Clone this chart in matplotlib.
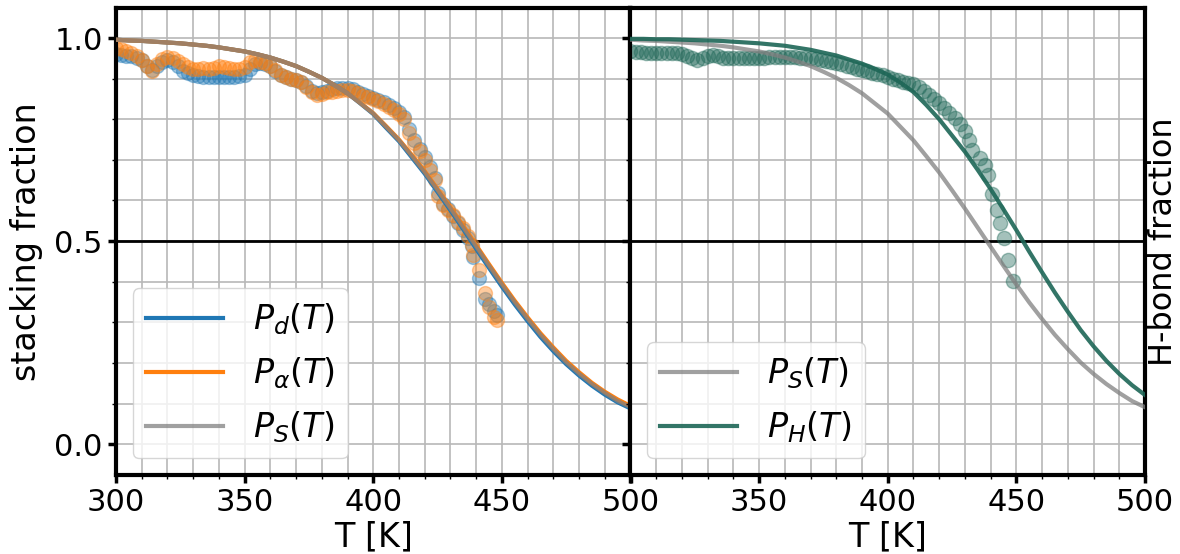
import matplotlib
matplotlib.use("Agg")
import matplotlib.pyplot as plt
from matplotlib.ticker import MultipleLocator

# ---- fitted curves ----
T_fit = [300, 305, 310, 315, 320, 325, 330, 335, 340, 345, 350, 355, 360, 365, 370,
         375, 380, 385, 390, 395, 400, 405, 410, 415, 420, 425, 430, 435, 440, 445,
         450, 455, 460, 465, 470, 475, 480, 485, 490, 495, 500]
P_S_fit = [0.996, 0.994, 0.993, 0.991, 0.989, 0.987, 0.984, 0.981, 0.977, 0.972,
           0.967, 0.960, 0.952, 0.942, 0.931, 0.917, 0.902, 0.884, 0.864, 0.839,
           0.814, 0.781, 0.748, 0.709, 0.669, 0.625, 0.580, 0.533, 0.486, 0.439,
           0.393, 0.349, 0.308, 0.269, 0.234, 0.201, 0.173, 0.148, 0.126, 0.106, 0.091]
P_d_fit = [0.996, 0.994, 0.993, 0.991, 0.989, 0.987, 0.984, 0.981, 0.977, 0.972,
           0.967, 0.960, 0.952, 0.942, 0.931, 0.917, 0.902, 0.884, 0.864, 0.839,
           0.813, 0.779, 0.746, 0.706, 0.666, 0.621, 0.576, 0.529, 0.481, 0.434,
           0.388, 0.344, 0.303, 0.264, 0.229, 0.197, 0.169, 0.144, 0.122, 0.103, 0.088]
P_a_fit = [0.996, 0.994, 0.993, 0.991, 0.989, 0.987, 0.984, 0.981, 0.977, 0.972,
           0.967, 0.960, 0.952, 0.942, 0.931, 0.917, 0.902, 0.884, 0.864, 0.840,
           0.815, 0.783, 0.750, 0.712, 0.672, 0.628, 0.583, 0.537, 0.490, 0.443,
           0.397, 0.353, 0.312, 0.273, 0.238, 0.205, 0.177, 0.151, 0.129, 0.110, 0.094]
P_H_fit = [0.998, 0.998, 0.997, 0.997, 0.996, 0.995, 0.994, 0.993, 0.991, 0.989,
           0.987, 0.984, 0.981, 0.976, 0.971, 0.964, 0.957, 0.947, 0.937, 0.924,
           0.910, 0.890, 0.867, 0.835, 0.800, 0.760, 0.720, 0.675, 0.628, 0.578,
           0.527, 0.474, 0.423, 0.373, 0.326, 0.281, 0.241, 0.205, 0.173, 0.145, 0.121]

# ---- simulation data: stacking (left) ----
T_stack = [300, 302, 304, 306, 308, 310, 312, 314, 316, 318, 320, 322, 324, 326, 328,
           330, 332, 334, 336, 338, 340, 342, 344, 346, 348, 350, 352, 354, 356, 358,
           360, 362, 364, 366, 368, 370, 372, 374, 376, 378, 380, 382, 384, 386, 388,
           390, 392, 394, 396, 398, 400, 402, 404, 406, 408, 410, 412, 414, 416, 418,
           420, 422, 424, 425, 427, 429, 431, 433, 435, 437, 438.4, 438.8, 441, 443.6,
           445, 446.8, 448.2]
P_alpha_data = [0.975, 0.972, 0.968, 0.964, 0.955, 0.945, 0.930, 0.920, 0.935, 0.948,
                0.954, 0.950, 0.943, 0.935, 0.928, 0.925, 0.924, 0.926, 0.925, 0.927,
                0.930, 0.929, 0.926, 0.924, 0.925, 0.928, 0.940, 0.945, 0.942, 0.938,
                0.932, 0.922, 0.910, 0.903, 0.900, 0.897, 0.893, 0.880, 0.868, 0.860,
                0.862, 0.866, 0.868, 0.870, 0.872, 0.873, 0.870, 0.864, 0.858, 0.854,
                0.850, 0.845, 0.838, 0.830, 0.822, 0.812, 0.800, 0.765, 0.742, 0.722,
                0.700, 0.675, 0.650, 0.610, 0.588, 0.576, 0.565, 0.548, 0.532, 0.512,
                0.490, 0.466, 0.428, 0.372, 0.338, 0.314, 0.305]
P_d_data = [0.960, 0.958, 0.956, 0.955, 0.952, 0.945, 0.932, 0.922, 0.930, 0.940,
            0.945, 0.940, 0.930, 0.920, 0.914, 0.910, 0.907, 0.905, 0.904, 0.903,
            0.903, 0.904, 0.905, 0.905, 0.906, 0.910, 0.925, 0.935, 0.938, 0.936,
            0.930, 0.920, 0.910, 0.903, 0.900, 0.897, 0.893, 0.882, 0.870, 0.864,
            0.866, 0.870, 0.874, 0.877, 0.878, 0.878, 0.874, 0.868, 0.862, 0.857,
            0.852, 0.848, 0.842, 0.835, 0.827, 0.818, 0.806, 0.775, 0.750, 0.728,
            0.706, 0.682, 0.655, 0.618, 0.592, 0.578, 0.562, 0.545, 0.528, 0.508,
            0.488, 0.460, 0.410, 0.358, 0.345, 0.328, 0.318]

# ---- simulation data: H-bond (right) ----
T_hb = [300, 302, 304, 306, 308, 310, 312, 314, 316, 318, 320, 322, 324, 326, 328,
        330, 332, 334, 336, 338, 340, 342, 344, 346, 348, 350, 352, 354, 356, 358,
        360, 362, 364, 366, 368, 370, 372, 374, 376, 378, 380, 382, 384, 386, 388,
        390, 392, 394, 396, 398, 400, 402, 404, 406, 408, 410, 412, 414, 416, 418,
        420, 422, 424, 426, 428, 430, 431.5, 432.7, 435.9, 437.9, 439.1, 440.5,
        442.5, 443.8, 445.3, 446.6, 448.5]
P_H_data = [0.968, 0.966, 0.965, 0.964, 0.963, 0.962, 0.962, 0.962, 0.963, 0.962,
            0.960, 0.955, 0.950, 0.946, 0.950, 0.956, 0.958, 0.955, 0.952, 0.951,
            0.950, 0.950, 0.950, 0.950, 0.950, 0.951, 0.952, 0.954, 0.954, 0.954,
            0.954, 0.954, 0.953, 0.952, 0.951, 0.950, 0.948, 0.946, 0.943, 0.940,
            0.938, 0.935, 0.931, 0.928, 0.925, 0.922, 0.919, 0.915, 0.912, 0.908,
            0.905, 0.900, 0.896, 0.892, 0.889, 0.886, 0.880, 0.870, 0.860, 0.850,
            0.840, 0.828, 0.815, 0.802, 0.788, 0.770, 0.750, 0.724, 0.704, 0.687,
            0.663, 0.617, 0.576, 0.545, 0.508, 0.453, 0.401]

x_ticks = [300, 350, 400, 450, 500]
y_ticks = [0.0, 0.5, 1.0]

BLUE = "#1f77b4"
ORANGE = "#ff7f0e"
GRAY = "#808080"
GREEN = "#1d6656"

plt.rcParams["font.family"] = ["DejaVu Sans"]
fig = plt.figure(figsize=(11.8, 5.54), dpi=100)
left, right, top, bottom = 116/1180, 1145/1180, 1 - 8/554, 1 - 475/554
w = (right - left) / 2
ax1 = fig.add_axes([left, bottom, w, top - bottom])
ax2 = fig.add_axes([left + w, bottom, w, top - bottom], sharey=ax1)

for ax in (ax1, ax2):
    ax.set_xlim(300, 500)
    ax.set_ylim(-0.076, 1.074)
    ax.set_xticks(x_ticks)
    ax.set_yticks(y_ticks)
    ax.xaxis.set_minor_locator(MultipleLocator(10))
    ax.yaxis.set_minor_locator(MultipleLocator(0.1))
    ax.grid(True, which="both", color="#b8b8b8", lw=1.2, zorder=0)
    ax.set_axisbelow(True)
    for s in ax.spines.values():
        s.set_linewidth(3)
    ax.tick_params(which="major", labelsize=22, width=2.5, length=6)
    ax.tick_params(which="minor", width=1, length=3)
    ax.axhline(0.5, color="black", lw=2, zorder=1)
    ax.set_xlabel("T [K]", fontsize=24, labelpad=2)

# left panel
ax1.scatter(T_stack, P_d_data, s=100, color=BLUE, alpha=0.4, zorder=2)
ax1.scatter(T_stack, P_alpha_data, s=100, color=ORANGE, alpha=0.4, zorder=2)
ax1.plot(T_fit, P_d_fit, color=BLUE, lw=3, label=r"$P_d(T)$", zorder=3)
ax1.plot(T_fit, P_a_fit, color=ORANGE, lw=3, label=r"$P_\alpha(T)$", zorder=3)
ax1.plot(T_fit, P_S_fit, color=GRAY, lw=3, alpha=0.75, label=r"$P_S(T)$", zorder=3)
ax1.set_ylabel("stacking fraction", fontsize=24, labelpad=8)
ax1.legend(loc="lower left", fontsize=24, handlelength=2.3, handletextpad=0.9,
           labelspacing=0.55)

# right panel
ax2.scatter(T_hb, P_H_data, s=105, color=GREEN, alpha=0.4, zorder=2)
ax2.plot(T_fit, P_S_fit, color=GRAY, lw=3, alpha=0.75, label=r"$P_S(T)$", zorder=3)
ax2.plot(T_fit, P_H_fit, color=GREEN, lw=3, alpha=0.9, label=r"$P_H(T)$", zorder=3)
ax2.tick_params(axis="y", labelleft=False)
ax2.set_xticks(x_ticks)
ax2.set_xticklabels(["", "350", "400", "450", "500"])
ax2.yaxis.set_label_position("right")
ax2.set_ylabel("H-bond fraction", fontsize=23, labelpad=2)
ax2.legend(loc="lower left", fontsize=24, handlelength=2.3, handletextpad=0.9,
           labelspacing=0.55)

fig.savefig("out.png", dpi=100)
